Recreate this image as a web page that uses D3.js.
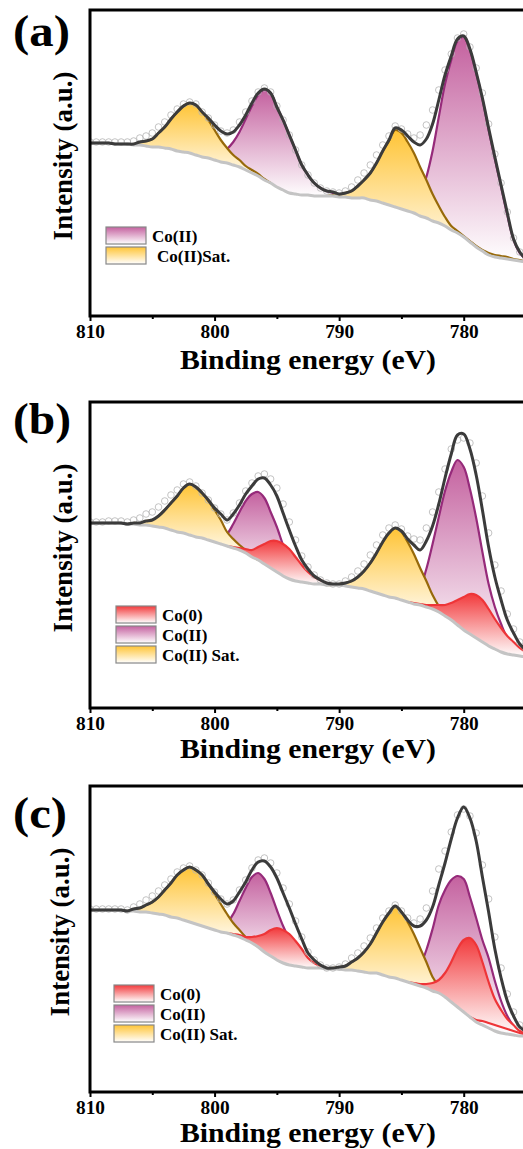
<!DOCTYPE html>
<html>
<head>
<meta charset="utf-8">
<script src="https://cdn.jsdelivr.net/npm/d3@7"></script>
<style>
  body { margin: 0; background: #fff; }
  svg { display: block; }
  text { font-family: "Liberation Serif", "Times New Roman", serif; font-weight: bold; fill: #000; }
</style>
</head>
<body>
<svg id="chart" width="523" height="1149"></svg>
<script>
// binding energy grid (eV), 0.5 eV step
const energy = [810,809.5,809,808.5,808,807.5,807,806.5,806,805.5,
  805,804.5,804,803.5,803,802.5,802,801.5,801,800.5,
  800,799.5,799,798.5,798,797.5,797,796.5,796,795.5,
  795,794.5,794,793.5,793,792.5,792,791.5,791,790.5,
  790,789.5,789,788.5,788,787.5,787,786.5,786,785.5,
  785,784.5,784,783.5,783,782.5,782,781.5,781,780.5,
  780,779.5,779,778.5,778,777.5,777,776.5,776,775.5,775]

// ---- panel (a) ----
const bgA = [173,173,173,173,172,172,172,171,171,170,
  169,169,168,167,165,164,163,161,159,158,
  156,154,153,151,149,146,143,140,136,133,
  129,126,123,122,121,121,120,120,120,120,
  119,119,118,118,118,116,115,113,111,109,
  107,105,103,100,98,95,93,90,86,83,
  79,74,69,65,61,59,58,57,56,55,54]
const rawA = [174,174,174,174,174,174,174,175,178,180,
  183,189,194,201,207,212,214,212,204,198,
  191,185,183,186,194,204,215,224,228,224,
  210,196,181,166,151,141,133,128,125,124,
  123,125,129,136,143,151,161,171,180,190,
  187,182,178,181,191,206,226,246,262,278,
  282,269,248,223,192,162,133,104,78,64,57]
// [component, first energy, heights above background]
const peaksA = [
  ['co2', 801, [0,2,5,9,14,23,35,51,67,81,90,90,80,70,58,44,30,20,13,8,5,3,1,0]],
  ['co2', 786.5, [0,1,2,3,6,11,22,41,70,106,142,170,192,200,192,174,152,125,98,71,44,20,8,3]],
  ['sat', 807, [0,1,3,5,8,14,21,30,39,46,50,50,45,38,30,22,15,10,7,4,3,2,1,0]],
  ['sat', 791, [0,1,2,4,7,12,18,27,38,52,64,77,76,69,60,49,38,27,17,9,4,2,1,1,1,1,2,2,2,2,1,1,0]]
]
const legendA = [['co2', 'Co(II)'], ['sat', 'Co(II)Sat.']]

// ---- panel (b) ----
const bgB = [185,185,185,185,185,185,184,184,183,183,
  182,181,180,178,176,175,173,171,170,168,
  166,164,162,160,158,155,151,148,144,140,
  136,132,129,127,126,125,124,124,123,123,
  123,122,121,120,119,117,115,113,111,110,
  108,106,104,103,101,99,96,92,88,83,
  78,74,70,66,62,59,56,54,53,52,51]
const rawB = [186,186,186,187,187,187,186,188,190,194,
  196,201,207,213,218,224,226,222,215,208,
  200,194,188,195,205,217,225,232,234,229,
  220,204,186,168,152,141,133,128,125,124,
  124,127,131,137,144,153,163,173,180,183,
  179,172,169,168,180,196,216,239,259,268,
  270,265,245,212,175,143,117,94,79,66,59]
const peaksB = [
  ['co2', 801, [0,1,2,6,12,24,38,52,63,68,66,56,45,31,19,11,5,3,1,0]],
  ['co2', 785.5, [0,1,3,8,17,38,65,95,125,148,165,163,145,120,90,62,42,28,16,9,4,2]],
  ['sat', 807, [0,1,2,4,6,11,18,27,36,45,51,50,45,39,32,24,14,9,5,3,1,0]],
  ['sat', 791, [0,0,1,3,6,11,18,28,40,53,64,70,68,60,50,37,26,14,6,2,1,0]],
  ['co0', 799, [0,1,2,4,7,13,20,27,31,32,30,24,17,11,7,4,2,1,0]],
  ['co0', 784.5, [0,1,1,2,4,7,11,17,25,33,40,43,42,37,30,24,18,13,8,5]]
]
const legendB = [['co0', 'Co(0)'], ['co2', 'Co(II)'], ['sat', 'Co(II) Sat.']]

// ---- panel (c) ----
const bgC = [182,182,182,182,182,182,181,181,180,180,
  179,178,177,175,174,172,170,168,166,164,
  162,160,159,157,155,152,149,145,140,136,
  132,129,127,126,125,124,124,124,123,123,
  123,122,122,121,120,119,119,117,115,114,
  112,110,108,106,104,101,99,95,90,85,
  80,75,70,67,64,61,59,58,57,56,56]
const rawC = [183,183,183,183,183,183,182,185,188,192,
  196,201,207,213,220,224,226,222,217,209,
  200,193,188,192,202,212,224,232,234,229,
  219,204,188,171,155,140,132,127,124,124,
  125,128,134,139,146,154,164,174,181,187,
  181,174,169,173,184,201,223,241,260,277,
  283,276,259,227,193,155,124,98,80,67,62]
const peaksC = [
  ['co2', 800.5, [0,2,5,10,21,36,52,66,74,73,63,50,37,26,17,10,5,3,1,0]],
  ['co2', 785, [0,2,7,20,38,62,88,107,122,131,133,120,104,85,70,50,32,18,9,4,2]],
  ['sat', 807, [0,2,4,7,11,17,25,34,43,50,55,54,51,44,36,28,19,12,7,3,1,0]],
  ['sat', 791, [0,1,2,4,8,13,20,29,40,53,64,72,68,60,50,38,26,14,7,3,1,0]],
  ['co0', 799, [0,1,2,3,6,11,18,26,32,33,31,25,18,10,5,2,1,0]],
  ['co0', 784.5, [0,1,2,4,8,13,24,40,58,72,79,77,63,46,32,23,15,10,5,3],
    [779.5, [0,2,4,5,6,6,5,4,3,1]]]
]
const legendC = [['co0', 'Co(0)'], ['co2', 'Co(II)'], ['sat', 'Co(II) Sat.']]

const majorTicks = [810, 800, 790, 780]
const minorTicks = [805, 795, 785]

const colors = {
  co2: { fill: '#c4619f', line: '#962a7a' },
  sat: { fill: '#ffc435', line: '#97690a' },
  co0: { fill: '#f23a3c', line: '#ee3538' }
}

const svg = d3.select('#chart')
const defs = svg.append('defs')
Object.keys(colors).forEach(k => {
  const gr = defs.append('linearGradient').attr('id', 'grad-' + k)
    .attr('x1', 0).attr('y1', 0).attr('x2', 0).attr('y2', 1)
  gr.append('stop').attr('offset', 0).attr('stop-color', colors[k].fill)
  gr.append('stop').attr('offset', 1).attr('stop-color', '#fff')
})

const x = d3.scaleLinear().domain([810, 775]).range([90, 526])
const at = e => Math.round((810 - e) * 2)

function drawPanel(p) {
  const top = p.bottom - 306
  const y = d3.scaleLinear().domain([0, 306]).range([p.bottom, top])
  const clipId = 'clip-' + p.key
  defs.append('clipPath').attr('id', clipId)
    .append('rect').attr('x', 90).attr('y', top).attr('width', 440).attr('height', 306)
  const plot = svg.append('g').attr('clip-path', `url(#${clipId})`)

  const area = d3.area().x(d => x(d.e)).y0(d => y(d.bot)).y1(d => y(d.top)).curve(d3.curveCatmullRom)
  const topLine = d3.line().x(d => x(d.e)).y(d => y(d.top)).curve(d3.curveCatmullRom)
  const botLine = d3.line().x(d => x(d.e)).y(d => y(d.bot)).curve(d3.curveCatmullRom)

  // envelope = background + all components
  const fit = p.bg.slice()
  p.peaks.forEach(pk => { const i0 = at(pk[1]); pk[2].forEach((v, k) => { fit[i0 + k] += v }) })

  ;['co2', 'sat', 'co0'].forEach(type => {
    p.peaks.filter(pk => pk[0] === type).forEach(pk => {
      const i0 = at(pk[1])
      const base = pk[3]
      const pts = pk[2].map((v, k) => {
        const i = i0 + k
        let b = 0
        if (base) {
          const j = i - at(base[0])
          if (j >= 0 && j < base[1].length) b = base[1][j]
        }
        return { e: energy[i], top: p.bg[i] + v, bot: p.bg[i] + b }
      })
      plot.append('path').datum(pts).attr('d', area).attr('fill', `url(#grad-${type})`)
      plot.append('path').datum(pts).attr('d', topLine)
        .attr('fill', 'none').attr('stroke', colors[type].line).attr('stroke-width', 2.2)
      if (base) {
        const bpts = pts.filter(d => d.e <= base[0])
        plot.append('path').datum(bpts).attr('d', botLine)
          .attr('fill', 'none').attr('stroke', colors[type].line).attr('stroke-width', 2.2)
      }
    })
  })

  // background
  plot.append('path').datum(p.bg)
    .attr('d', d3.line().x((d, i) => x(energy[i])).y(d => y(d)).curve(d3.curveCatmullRom))
    .attr('fill', 'none').attr('stroke', '#c4c4c4').attr('stroke-width', 3)

  // measured data
  plot.append('g').selectAll('circle').data(p.raw).join('circle')
    .attr('cx', (d, i) => x(energy[i])).attr('cy', d => y(d)).attr('r', 3.3)
    .attr('fill', 'none').attr('stroke', '#b4b4b4').attr('stroke-width', 0.8)

  // fitted envelope
  plot.append('path').datum(fit)
    .attr('d', d3.line().x((d, i) => x(energy[i])).y(d => y(d)).curve(d3.curveCatmullRom))
    .attr('fill', 'none').attr('stroke', '#3b3b3b').attr('stroke-width', 3)

  // frame
  svg.append('rect').attr('x', 90).attr('y', top).attr('width', 440).attr('height', 306)
    .attr('fill', 'none').attr('stroke', '#000').attr('stroke-width', 3)

  // x axis
  const ax = svg.append('g').attr('transform', `translate(0,${p.bottom})`)
    .call(d3.axisBottom(x).tickValues(majorTicks).tickSize(5).tickPadding(4).tickFormat(d3.format('d')))
  ax.select('.domain').remove()
  ax.selectAll('line').attr('stroke', '#000').attr('stroke-width', 2)
  ax.selectAll('text').style('font-size', '18px').attr('fill', '#000')
    .attr('textLength', 29).attr('lengthAdjust', 'spacingAndGlyphs')
  const axm = svg.append('g').attr('transform', `translate(0,${p.bottom})`)
    .call(d3.axisBottom(x).tickValues(minorTicks).tickSize(3).tickFormat(''))
  axm.select('.domain').remove()
  axm.selectAll('line').attr('stroke', '#000').attr('stroke-width', 2)

  svg.append('text').attr('x', 308).attr('y', p.titleY).attr('text-anchor', 'middle')
    .style('font-size', '27px').attr('textLength', 256).attr('lengthAdjust', 'spacingAndGlyphs')
    .text('Binding energy (eV)')
  svg.append('text').attr('transform', `translate(${p.ylabX},${(top + p.bottom) / 2 - 7}) rotate(-90)`)
    .attr('text-anchor', 'middle').style('font-size', '27px').text('Intensity (a.u.)')
  svg.append('text').attr('x', 13).attr('y', p.letterY).style('font-size', '45px')
    .attr('textLength', p.letterW).attr('lengthAdjust', 'spacingAndGlyphs').text(`(${p.key})`)

  // legend
  const lg = svg.append('g')
  p.legend.forEach((d, i) => {
    const ly = p.legY + i * 20
    lg.append('rect').attr('x', p.legX).attr('y', ly).attr('width', 40).attr('height', 17)
      .attr('fill', `url(#grad-${d[0]})`).attr('stroke', '#888').attr('stroke-width', 1.2)
    lg.append('text').attr('x', p.legX + 46 + (p.legShift ? p.legShift[i] : 0)).attr('y', ly + 15)
      .style('font-size', '17px').text(d[1])
  })
}

drawPanel({ key: 'a', bottom: 316, bg: bgA, raw: rawA, peaks: peaksA, legend: legendA,
  titleY: 369, letterY: 46, letterW: 57, ylabX: 72, legX: 106, legY: 227, legShift: [0, 5] })
drawPanel({ key: 'b', bottom: 708, bg: bgB, raw: rawB, peaks: peaksB, legend: legendB,
  titleY: 758, letterY: 434, letterW: 58, ylabX: 72, legX: 116, legY: 606 })
drawPanel({ key: 'c', bottom: 1092, bg: bgC, raw: rawC, peaks: peaksC, legend: legendC,
  titleY: 1142, letterY: 828, letterW: 54, ylabX: 69, legX: 114, legY: 985 })
</script>
</body>
</html>
